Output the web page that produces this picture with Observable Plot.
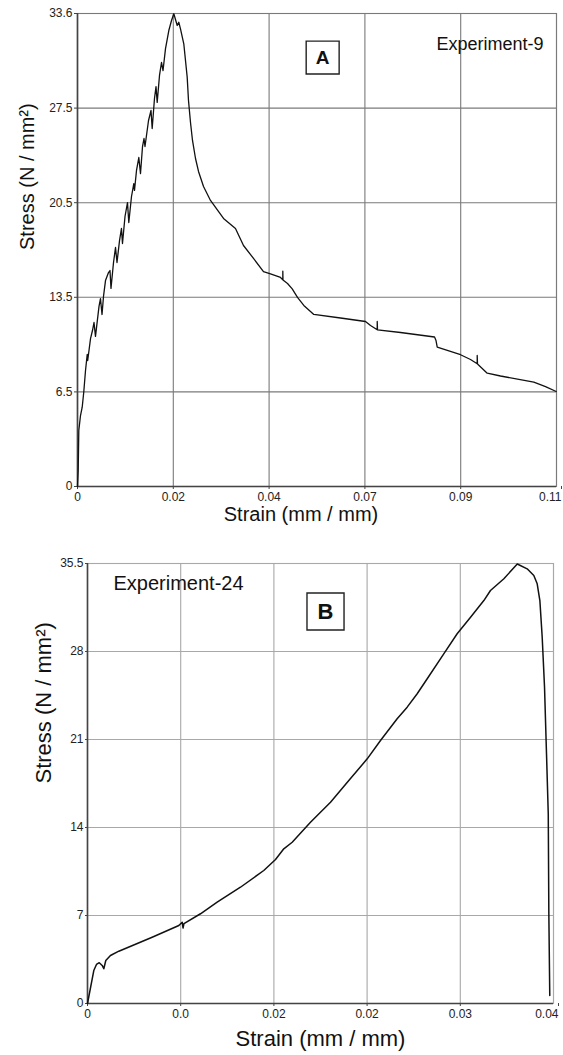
<!DOCTYPE html>
<html><head><meta charset="utf-8">
<script src="https://cdn.jsdelivr.net/npm/d3@7"></script>
<script src="https://cdn.jsdelivr.net/npm/@observablehq/plot@0.6"></script>
<style>
body{margin:0;background:#fff;}
#chart{width:563px;}
#chart svg{display:block;}
</style></head><body><div id="chart"></div>
<script>
// ---------- Panel A (Experiment-9) ----------
const strainA = [0,0.00016,0.0003,0.00069,0.00108,0.00145,0.00184,0.00223,0.00234,0.00264,0.00299,0.00344,0.00379,0.00413,0.00494,0.00528,0.00563,0.00597,0.00643,0.00712,0.00746,0.00769,0.00827,0.00873,0.00907,0.00965,0.0101,0.01033,0.01091,0.01148,0.01178,0.0124,0.01293,0.01309,0.01355,0.01408,0.01447,0.01493,0.01527,0.0155,0.01631,0.01688,0.01715,0.01768,0.01803,0.0183,0.01883,0.01929,0.01964,0.02021,0.02097,0.02159,0.02212,0.0229,0.02326,0.02365,0.02441,0.02519,0.02549,0.02595,0.02641,0.0271,0.02779,0.02894,0.03054,0.03353,0.03628,0.03812,0.04042,0.04271,0.04432,0.04662,0.04715,0.04715,0.04719,0.04823,0.04931,0.05052,0.05197,0.05427,0.0604,0.06614,0.06729,0.06883,0.06883,0.0689,0.07418,0.08199,0.08233,0.08261,0.08796,0.09025,0.09179,0.09179,0.09186,0.09409,0.09714,0.10479,0.10748,0.10993];
const stressA = [0,1.14,3.98,5.04,5.63,6.75,8.24,9.38,8.95,9.66,10.51,11.08,11.65,10.66,12.79,13.35,12.22,13.5,14.63,15.2,15.34,14.07,15.91,16.98,15.91,17.47,18.33,17.26,19.18,20.17,18.75,20.6,21.52,21.03,22.45,23.37,22.23,24.15,24.72,24.15,26.0,26.71,25.43,27.56,28.41,27.28,29.2,30.12,29.55,31.11,32.39,33.1,33.58,32.75,32.98,32.51,31.45,29.08,27.42,25.86,24.58,23.3,22.38,21.31,20.32,19.04,18.33,17.12,16.2,15.27,15.1,14.85,14.68,15.29,14.67,14.42,14.04,13.43,12.86,12.22,11.97,11.72,11.44,11.13,11.72,11.12,10.94,10.62,10.37,9.9,9.36,9.02,8.72,9.31,8.7,8.05,7.85,7.41,7.1,6.75];
const xTicksA = [0, 0.022, 0.044, 0.066, 0.088, 0.11];
const xTickLabelsA = ["0", "0.02", "0.04", "0.07", "0.09", "0.11"];
const yTicksA = [0, 6.72, 13.44, 20.16, 26.88, 33.6];
const yTickLabelsA = ["0", "6.5", "13.5", "20.5", "27.5", "33.6"];

// ---------- Panel B (Experiment-24) ----------
const strainB = [0,0.00054,0.00077,0.00101,0.00126,0.0014,0.00157,0.00197,0.00269,0.00555,0.00784,0.00813,0.0082,0.00828,0.0097,0.01113,0.01313,0.01513,0.01614,0.01685,0.01757,0.01914,0.02086,0.02243,0.02401,0.02515,0.02658,0.02744,0.0283,0.02916,0.03058,0.03173,0.03288,0.03402,0.03459,0.03574,0.03689,0.03774,0.03831,0.0386,0.03883,0.03903,0.03923,0.0394,0.03955,0.0396,0.03968];
const stressB = [0,2.66,3.15,3.29,3.07,2.8,3.47,3.87,4.22,5.35,6.29,6.56,6.09,6.45,7.24,8.17,9.38,10.73,11.62,12.48,13.01,14.63,16.24,17.99,19.74,21.22,22.97,23.91,24.99,26.2,28.21,29.83,31.17,32.51,33.32,34.27,35.46,35.07,34.53,33.86,32.51,29.55,25.52,20.15,15.31,7.24,0.65];
const xTicksB = [0, 0.008, 0.016, 0.024, 0.032, 0.04];
const xTickLabelsB = ["0", "0.0", "0.02", "0.02", "0.03", "0.04"];
const yTicksB = [0, 7.1, 14.2, 21.3, 28.4, 35.5];
const yTickLabelsB = ["0", "7", "14", "21", "28", "35.5"];

// ---------- Text ----------
const xTitle = "Strain (mm / mm)";
const yTitle = "Stress (N / mm²)";
const panelLetters = ["A", "B"];
const experimentNames = ["Experiment-9", "Experiment-24"];

const FONT = "'Liberation Sans', Arial, Helvetica, sans-serif";

function panel(o) {
  const data = o.xs.map((x, i) => ({x, y: o.ys[i]}));
  const xFmt = d => o.xLabels[o.xTicks.indexOf(d)];
  const inner = o.xTicks.slice(0, -1);
  const last = o.xTicks.slice(-1);
  return Plot.plot({
    width: 563, height: o.height,
    marginTop: o.mt, marginLeft: o.ml, marginRight: o.mr, marginBottom: o.mb,
    style: {fontFamily: FONT, fontSize: o.tickFont + "px", color: "#222", background: "#fff", overflow: "visible"},
    x: {domain: [0, o.xTicks[o.xTicks.length - 1]]},
    y: {domain: [0, o.yTicks[o.yTicks.length - 1]]},
    marks: [
      Plot.gridX(o.xTicks, {stroke: o.grid, strokeOpacity: 1, strokeWidth: 1.1}),
      Plot.gridY(o.yTicks, {stroke: o.grid, strokeOpacity: 1, strokeWidth: 1.1}),
      Plot.frame({stroke: o.grid, strokeWidth: 1.1}),
      Plot.ruleX([0], {stroke: "#444", strokeWidth: 1.6}),
      Plot.ruleY([0], {stroke: "#444", strokeWidth: 1.6}),
      Plot.axisX(inner, {tickFormat: xFmt, tickSize: 3, tickPadding: 3, label: null, stroke: "#444"}),
      Plot.axisX(last, {tickFormat: xFmt, tickSize: 3, tickPadding: 3, label: null, stroke: "#444", textAnchor: "end", dx: 5}),
      Plot.axisY(o.yTicks, {tickFormat: d => o.yLabels[o.yTicks.indexOf(d)], tickSize: o.yTickSize, tickPadding: 2, label: null, stroke: "#444"}),
      Plot.line(data, {x: "x", y: "y", stroke: "#111", strokeWidth: o.lw, strokeLinejoin: "round"}),
      Plot.text([yTitle], {text: d => d, frameAnchor: "left", dx: o.yTitleDx, rotate: -90, fontSize: o.titleFont, fill: "#111"}),
      Plot.text([xTitle], {text: d => d, frameAnchor: "bottom", dy: o.xTitleDy, dx: o.xTitleDx, fontSize: o.titleFont, fill: "#111"}),
      Plot.dot([o.box], {x: "x", y: "y", symbol: "square", r: o.boxR, fill: "white", stroke: "#222", strokeWidth: 1.4}),
      Plot.text([o.box], {x: "x", y: "y", text: "t", fontWeight: "bold", fontSize: o.boxFont, fill: "#111"}),
      Plot.text([o.exp], {x: "x", y: "y", text: "t", textAnchor: o.exp.anchor, fontSize: o.expFont, fill: "#111"})
    ]
  });
}

const chart = document.getElementById("chart");
chart.append(panel({
  xs: strainA, ys: stressA, xTicks: xTicksA, xLabels: xTickLabelsA, yTicks: yTicksA, yLabels: yTickLabelsA,
  height: 535, mt: 13, ml: 77, mr: 7, mb: 49, grid: "#7a7a7a", lw: 1.3, tickFont: 12, yTickSize: 3,
  titleFont: 20, yTitleDx: -50, xTitleDy: 34, xTitleDx: -16,
  box: {x: 0.0563, y: 30.47, t: panelLetters[0]}, boxR: 18.6, boxFont: 19,
  exp: {x: 0.10702, y: 31.4, t: experimentNames[0], anchor: "end"}, expFont: 18
}));
chart.append(panel({
  xs: strainB, ys: stressB, xTicks: xTicksB, xLabels: xTickLabelsB, yTicks: yTicksB, yLabels: yTickLabelsB,
  height: 520, mt: 28, ml: 87, mr: 10, mb: 52, grid: "#a8a8a8", lw: 1.5, tickFont: 12, yTickSize: 2,
  titleFont: 22, yTitleDx: -44, xTitleDy: 42, xTitleDx: 0,
  box: {x: 0.02043, y: 31.63, t: panelLetters[1]}, boxR: 20.9, boxFont: 22,
  exp: {x: 0.00223, y: 33.89, t: experimentNames[1], anchor: "start"}, expFont: 20
}));
</script>
</body></html>
